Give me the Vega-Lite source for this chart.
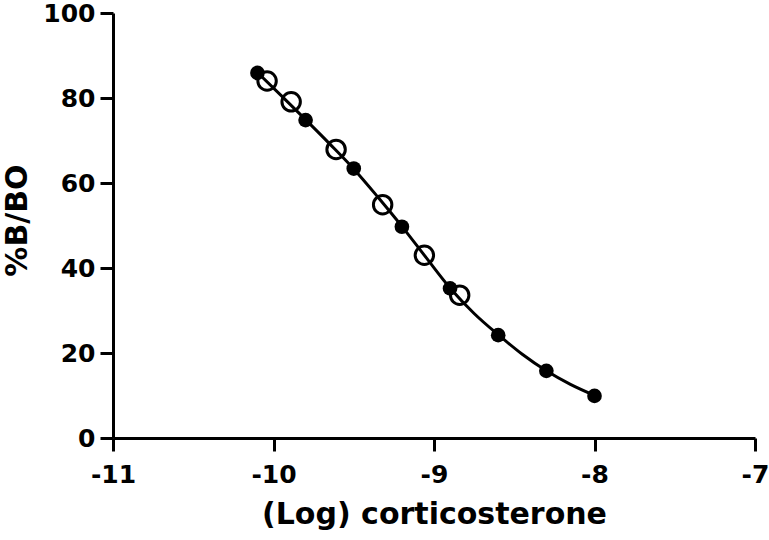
{
  "$schema": "https://vega.github.io/schema/vega-lite/v6.json",
  "width": 642,
  "height": 425,
  "autosize": {"type": "none"},
  "padding": {"left": 113, "top": 13, "right": 14, "bottom": 102},
  "background": "white",
  "config": {
    "view": {"stroke": null},
    "font": "DejaVu Sans",
    "axis": {
      "grid": false,
      "domainColor": "black",
      "domainWidth": 3,
      "tickColor": "black",
      "tickWidth": 3,
      "tickSize": 13,
      "labelFont": "DejaVu Sans",
      "labelFontWeight": "bold",
      "labelFontSize": 25,
      "labelColor": "black",
      "labelFlush": false,
      "titleFont": "DejaVu Sans",
      "titleFontWeight": "bold",
      "titleFontSize": 30,
      "titleColor": "black"
    }
  },
  "datasets": {
    "curve": [
      {"x": -10.1, "y": 86.0},
      {"x": -9.95, "y": 80.5},
      {"x": -9.8, "y": 74.9},
      {"x": -9.65, "y": 69.2},
      {"x": -9.5, "y": 63.3},
      {"x": -9.35, "y": 56.7},
      {"x": -9.2, "y": 49.8},
      {"x": -9.05, "y": 42.5},
      {"x": -8.9, "y": 35.3},
      {"x": -8.75, "y": 29.3},
      {"x": -8.6, "y": 24.3},
      {"x": -8.45, "y": 19.7},
      {"x": -8.3, "y": 15.8},
      {"x": -8.15, "y": 12.6},
      {"x": -8.0, "y": 10.0}
    ],
    "filled": [
      {"x": -10.1, "y": 85.9},
      {"x": -9.8, "y": 74.8},
      {"x": -9.5, "y": 63.4},
      {"x": -9.2, "y": 49.7},
      {"x": -8.9, "y": 35.2},
      {"x": -8.6, "y": 24.2},
      {"x": -8.3, "y": 15.8},
      {"x": -8.0, "y": 9.9}
    ],
    "open": [
      {"x": -10.04, "y": 84.0},
      {"x": -9.89, "y": 79.1},
      {"x": -9.61, "y": 67.9},
      {"x": -9.32, "y": 54.9},
      {"x": -9.06, "y": 43.0},
      {"x": -8.84, "y": 33.6}
    ]
  },
  "encoding": {
    "x": {
      "field": "x",
      "type": "quantitative",
      "scale": {"domain": [-11, -7], "nice": false, "zero": false},
      "axis": {
        "title": "(Log) corticosterone",
        "values": [-11, -10, -9, -8, -7],
        "labelPadding": 11,
        "labelExpr": "datum.value < 0 ? '-' + format(-datum.value, 'd') : format(datum.value, 'd')",
        "titleBaseline": "alphabetic",
        "titleY": 85
      }
    },
    "y": {
      "field": "y",
      "type": "quantitative",
      "scale": {"domain": [0, 100], "nice": false},
      "axis": {
        "title": "%B/BO",
        "values": [0, 20, 40, 60, 80, 100],
        "labelPadding": 5,
        "labelFlush": false,
        "titleBaseline": "alphabetic",
        "titleAngle": -90,
        "titleAlign": "center",
        "titleX": -87,
        "titleY": 207
      }
    }
  },
  "layer": [
    {
      "data": {"name": "curve"},
      "mark": {"type": "line", "color": "black", "strokeWidth": 3, "interpolate": "monotone"}
    },
    {
      "data": {"name": "filled"},
      "mark": {"type": "point", "shape": "circle", "filled": true, "color": "black", "size": 215, "opacity": 1}
    },
    {
      "data": {"name": "open"},
      "mark": {"type": "point", "shape": "circle", "filled": false, "color": "black", "size": 340, "strokeWidth": 3, "opacity": 1}
    }
  ]
}
